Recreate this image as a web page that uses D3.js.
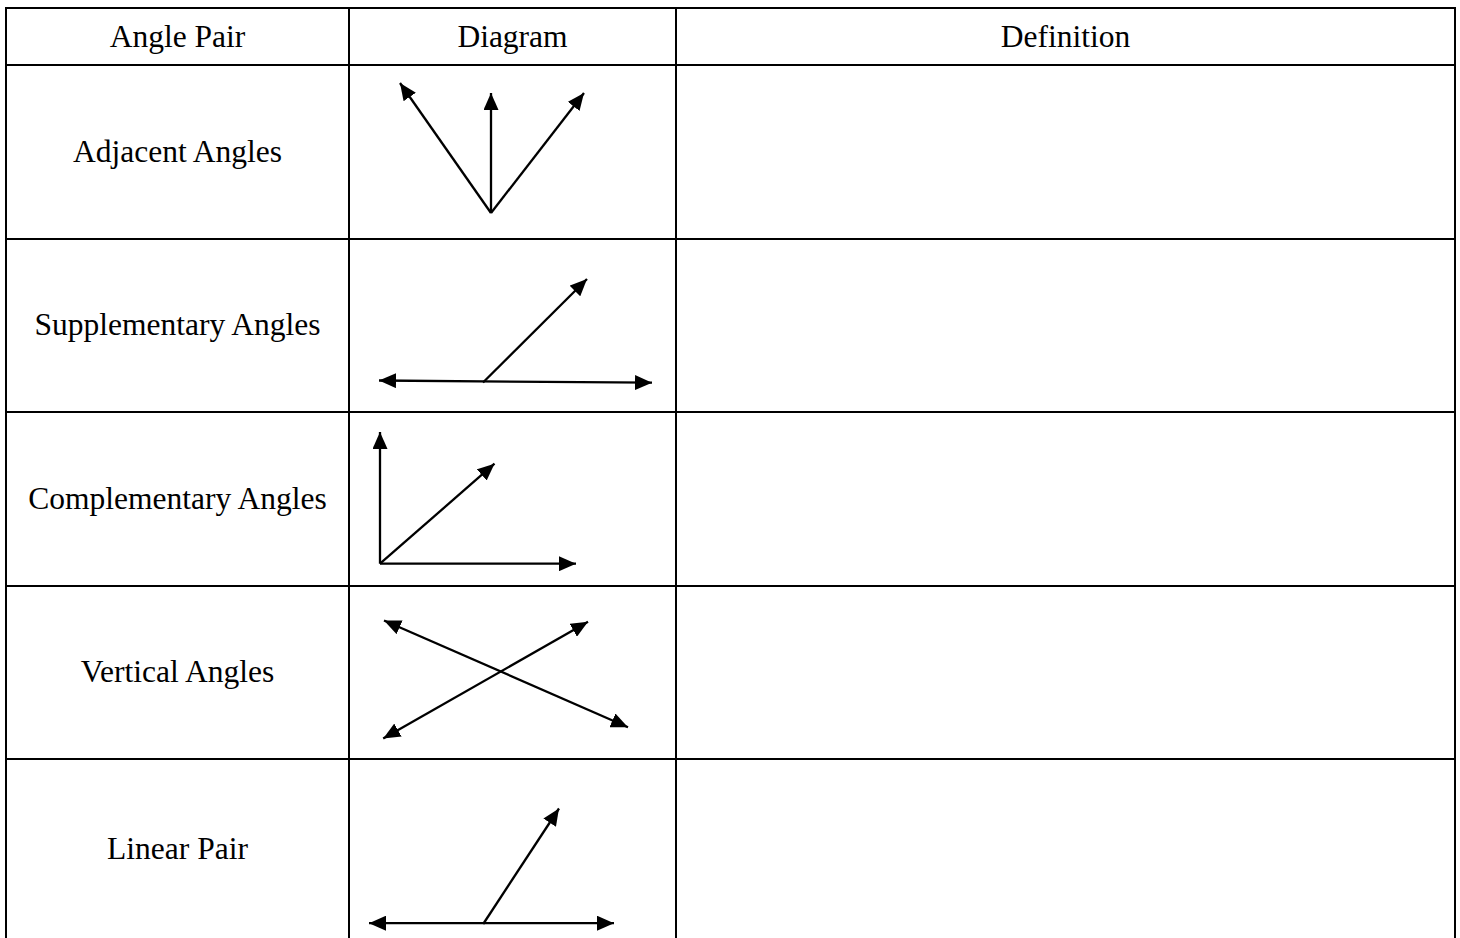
<!DOCTYPE html>
<html>
<head>
<meta charset="utf-8">
<script src="https://cdn.jsdelivr.net/npm/d3@7"></script>
<style>
  body { margin: 0; background: #fff; }
  svg { display: block; }
  .cell-text { font-family: "Liberation Serif", "Times New Roman", serif; font-size: 31.5px; fill: #000; }
</style>
</head>
<body>
<script>
// table of angle pairs with diagram column

//pseudo-global variables
var headers = ["Angle Pair", "Diagram", "Definition"];
var angleNames = ["Adjacent Angles", "Supplementary Angles", "Complementary Angles", "Vertical Angles", "Linear Pair"];
var colWidths = [343, 326.5, 779];
var headerHeight = 57.5;
var rowHeights = [173.5, 173.5, 173.5, 173, 181];

// diagram segments per row, in cell units: [x1, y1, x2, y2, arrowAtStart, arrowAtEnd]
var adjacentRays = [[142, 148, 51, 18, 0, 1], [142, 148, 142, 28, 0, 1], [142, 148, 235, 28, 0, 1]];
var supplementaryRays = [[30, 141.5, 303, 143.7, 1, 1], [134, 143.5, 238, 40, 0, 1]];
var complementaryRays = [[31, 151.7, 31, 20, 0, 1], [31, 151.7, 227, 151.7, 0, 1], [31, 151.7, 145.5, 51.7, 0, 1]];
var verticalLines = [[35, 34.5, 279, 141.2, 1, 1], [34.2, 152.5, 239, 35.8, 1, 1]];
var linearPairRays = [[20, 164.2, 265, 164.2, 1, 1], [134.2, 165, 210, 49.5, 0, 1]];
var diagrams = [adjacentRays, supplementaryRays, complementaryRays, verticalLines, linearPairRays];

window.onload = drawTable();

function drawTable(){
    var width = 1460,
    height = 938,
    left = 6,
    top = 7.5;

    var svg = d3.select("body")
    .append("svg")
    .attr("width", width)
    .attr("height", height);

    //arrowhead markers
    var defs = svg.append("defs");
    defs.append("marker")
        .attr("id", "arrow")
        .attr("markerUnits", "userSpaceOnUse")
        .attr("markerWidth", 18)
        .attr("markerHeight", 15)
        .attr("refX", 17)
        .attr("refY", 7.5)
        .attr("orient", "auto-start-reverse")
        .append("path")
        .attr("d", "M0,0 L17,7.5 L0,15 Z")
        .attr("fill", "#000");

    //column edges and row edges, snapped to whole pixels
    var colEdges = [left];
    colWidths.forEach(function(w){ colEdges.push(colEdges[colEdges.length - 1] + w); });
    colEdges = colEdges.map(Math.round);
    var rowEdges = [top, top + headerHeight];
    rowHeights.forEach(function(h){ rowEdges.push(rowEdges[rowEdges.length - 1] + h); });
    rowEdges = rowEdges.map(Math.round);

    //horizontal lines (no bottom border, table runs off the page)
    svg.selectAll(".hline")
        .data(rowEdges.slice(0, rowEdges.length - 1))
        .enter()
        .append("line")
        .attr("class", "hline")
        .attr("x1", colEdges[0] - 1)
        .attr("x2", colEdges[colEdges.length - 1] + 1)
        .attr("y1", function(d){ return d; })
        .attr("y2", function(d){ return d; })
        .attr("stroke", "#000")
        .attr("stroke-width", 2);

    //vertical lines
    svg.selectAll(".vline")
        .data(colEdges)
        .enter()
        .append("line")
        .attr("class", "vline")
        .attr("x1", function(d){ return d; })
        .attr("x2", function(d){ return d; })
        .attr("y1", rowEdges[0] - 1)
        .attr("y2", height)
        .attr("stroke", "#000")
        .attr("stroke-width", 2);

    //header text
    svg.selectAll(".header")
        .data(headers)
        .enter()
        .append("text")
        .attr("class", "cell-text")
        .attr("text-anchor", "middle")
        .attr("x", function(d, i){ return (colEdges[i] + colEdges[i + 1]) / 2; })
        .attr("y", (rowEdges[0] + rowEdges[1]) / 2 + 10)
        .text(function(d){ return d; });

    //angle names
    svg.selectAll(".name")
        .data(angleNames)
        .enter()
        .append("text")
        .attr("class", "cell-text")
        .attr("text-anchor", "middle")
        .attr("x", (colEdges[0] + colEdges[1]) / 2)
        .attr("y", function(d, i){ return (rowEdges[i + 1] + rowEdges[i + 2]) / 2 + 9.5; })
        .text(function(d){ return d; });

    //diagrams
    diagrams.forEach(function(segs, i){
        var x = d3.scaleLinear().domain([0, colWidths[1]]).range([colEdges[1], colEdges[1] + colWidths[1]]);
        var y = d3.scaleLinear().domain([0, rowHeights[i]]).range([rowEdges[i + 1], rowEdges[i + 1] + rowHeights[i]]);

        svg.append("g")
            .attr("class", "diagram")
            .selectAll("line")
            .data(segs)
            .enter()
            .append("line")
            .attr("x1", function(d){ return x(d[0]); })
            .attr("y1", function(d){ return y(d[1]); })
            .attr("x2", function(d){ return x(d[2]); })
            .attr("y2", function(d){ return y(d[3]); })
            .attr("stroke", "#000")
            .attr("stroke-width", 2.3)
            .attr("marker-start", function(d){ return d[4] ? "url(#arrow)" : null; })
            .attr("marker-end", function(d){ return d[5] ? "url(#arrow)" : null; });
    });
};
</script>
</body>
</html>
